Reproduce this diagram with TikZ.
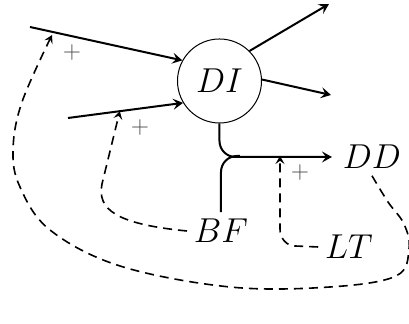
\documentclass[tikz,border=0pt]{standalone}
\usetikzlibrary{arrows.meta,calc}
\begin{document}
\begin{tikzpicture}[x=0.5pt,y=0.5pt,
  flow/.style={line width=1pt,-{Stealth[length=5pt,width=5.5pt,inset=2pt]}},
  plain/.style={line width=1pt},
  dep/.style={line width=0.8pt,dash pattern=on 4.5pt off 3pt,-{Stealth[length=4pt,width=4.5pt,inset=1.6pt]}},
  lab/.style={font=\LARGE, inner sep=0.33em},
  sign/.style={text=black!70, font=\large, inner sep=1pt}]
\useasboundingbox (0,0) rectangle (409,324);
\node[draw, circle, line width=0.5pt, minimum size=42pt, inner sep=0pt, font=\LARGE] (DI) at (219.5,243) {$DI$};
\node[lab] (DD) at (372,167) {$DD$};
\node[lab] (BF) at (221,93) {$BF$};
\node[lab] (LT) at (349,77) {$LT$};
\coordinate (a1) at (30,297);
\coordinate (a2) at (68,206);
\coordinate (o1) at (329,320);
\coordinate (o2) at (331,229);
\coordinate (j) at (240,168);
\coordinate (t1) at (52,289);
\coordinate (t3) at (280,168);
\draw[flow] (a1) -- (DI.151);
\draw[flow] (a2) -- (DI.211);
\draw[flow] (DI.45) -- (o1);
\draw[flow] (DI.2) -- (o2);
\draw[flow, rounded corners=8pt] (DI.south) |- ([xshift=-2pt]DD.west);
\draw[plain, rounded corners=8pt] (BF.north) |- (j);
\coordinate (t2) at ($(a2)!0.45!(DI.211)$);
\node[sign] (p1) at (72,271) {$+$};
\node[sign] (p2) at (140,196) {$+$};
\node[sign] (p3) at (300,151) {$+$};
\draw[dep] (BF.west) .. controls (115,100) and (97,115) .. (102,140) -- (t2);
\draw[dep] (LT.west) -- (295,78) to[out=180,in=-90] (280,95) -- (t3);
\draw[dep] plot[smooth, tension=0.6] coordinates {(DD.south) (388,122) (404,100) (409,75) (396,48) (330,37) (230,37) (120,58) (50,94) (20,137) (13,174) (22,222) (t1)};
\end{tikzpicture}
\end{document}
